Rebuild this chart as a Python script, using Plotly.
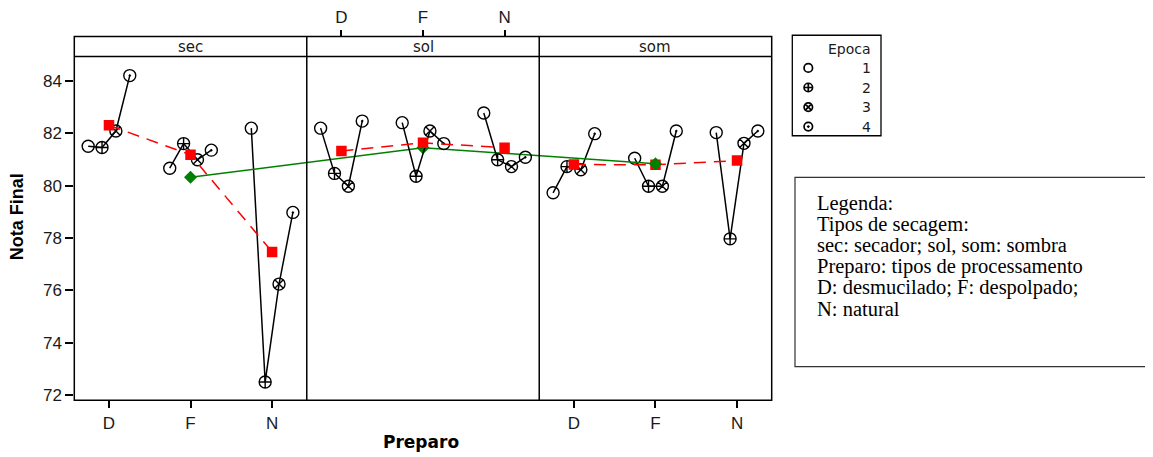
import plotly.graph_objects as go

# ---------------- data ----------------
secagem = ["sec", "sol", "som"]
preparo = ["D", "F", "N"]
epocas = ["1", "2", "3", "4"]
simbolos = ["circle-open", "circle-cross-open", "circle-x-open", "circle-open-dot"]

# Nota Final: preparo (D, F, N) x epoca (1..4)
notas_sec = [[81.51, 81.46, 82.09, 84.21],
             [80.67, 81.61, 80.99, 81.36],
             [82.20, 72.50, 76.24, 78.98]]
notas_sol = [[82.20, 80.47, 79.98, 82.47],
             [82.41, 80.36, 82.09, 81.61],
             [82.78, 80.99, 80.73, 81.09]]
notas_som = [[79.73, 80.73, 80.61, 81.99],
             [81.05, 79.98, 79.98, 82.09],
             [82.03, 77.97, 81.62, 82.09]]
media_preparo_sec = [82.31, 81.18, 77.47]
media_preparo_sol = [81.33, 81.64, 81.45]
media_preparo_som = [80.81, 80.80, 80.96]
media_secagem = [80.32, 81.45, 80.84]
y_ticks = [72, 74, 76, 78, 80, 82, 84]
nota_linhas = ["Legenda:", "Tipos de secagem:", "sec: secador; sol, som: sombra",
               "Preparo: tipos de processamento", "D: desmucilado; F: despolpado;",
               "N: natural"]

notas = [notas_sec, notas_sol, notas_som]
medias_preparo = [media_preparo_sec, media_preparo_sol, media_preparo_som]

# ---------------- layout helpers ----------------
OFF = 8            # page body margin
FW, FH = 1153 - OFF, 457 - OFF
PW = 2.85          # panel width in x units
X0 = 0.575         # left edge of the first panel (x units)
DODGE = [-0.255, -0.085, 0.085, 0.255]


def xpos(p, g, d=0.0):
    return p * PW + g + 1 + d


def fx(px):
    return (px - OFF) / FW


def fy(py):
    return 1 - (py - OFF) / FH


L, R, T_STRIP, T_PLOT, B = 74.3, 771.7, 34.0, 54.3, 404.3
TICKFONT = dict(family="Liberation Sans, Arial", size=17, color="#1a1a1a")

fig = go.Figure()

# black lines joining epocas inside each group, and epoca markers
for p in range(3):
    xa = "x2" if p == 1 else "x"
    for g in range(3):
        fig.add_trace(go.Scatter(
            x=[xpos(p, g, d) for d in DODGE], y=notas[p][g], xaxis=xa, yaxis="y",
            mode="lines", line=dict(color="black", width=1.5),
            showlegend=False, hoverinfo="skip"))
    for e in range(4):
        fig.add_trace(go.Scatter(
            x=[xpos(p, g, DODGE[e]) for g in range(3)],
            y=[notas[p][g][e] for g in range(3)], xaxis=xa, yaxis="y",
            mode="markers", name=epocas[e], showlegend=False,
            marker=dict(symbol=simbolos[e], size=12, color="black",
                        line=dict(width=1.4, color="black"))))

# red means per preparo (dashed)
for p in range(3):
    xa = "x2" if p == 1 else "x"
    fig.add_trace(go.Scatter(
        x=[xpos(p, g) for g in range(3)], y=medias_preparo[p], xaxis=xa, yaxis="y",
        mode="lines+markers", showlegend=False,
        line=dict(color="#ff0000", width=1.5, dash="12px,8px"),
        marker=dict(symbol="square", size=10.5, color="#ff0000")))

# green means per secagem
fig.add_trace(go.Scatter(
    x=[xpos(p, 1) for p in range(3)], y=media_secagem, xaxis="x", yaxis="y",
    mode="lines+markers", showlegend=False,
    line=dict(color="#008000", width=1.5),
    marker=dict(symbol="diamond", size=10, color="#008000")))

# manual Epoca key (pixel coordinates inside its own axes)
key_y = [66 + i * 19.9 for i in range(4)]
fig.add_trace(go.Scatter(
    x=[808.3] * 4, y=key_y, xaxis="x3", yaxis="y3", mode="markers",
    showlegend=False, hoverinfo="skip",
    marker=dict(symbol=simbolos, size=8.5, color="black",
                line=dict(width=1.7, color="black"))))

annotations = []
annotations.append(dict(x=873, y=47, xref="x3", yref="y3", text="Epoca",
                        showarrow=False, xanchor="right", yanchor="middle",
                        font=dict(family="DejaVu Sans", size=14, color="#1a1a1a")))
for i, e in enumerate(epocas):
    annotations.append(dict(x=873, y=key_y[i], xref="x3", yref="y3", text=e,
                            showarrow=False, xanchor="right", yanchor="middle",
                            font=dict(family="DejaVu Sans", size=14, color="#1a1a1a")))

# strip labels
for p, s in enumerate(secagem):
    annotations.append(dict(x=X0 + PW * (p + 0.5), y=fy((T_STRIP + T_PLOT) / 2),
                            xref="x", yref="paper", text=s, showarrow=False,
                            xanchor="center", yanchor="middle",
                            font=dict(family="DejaVu Sans", size=15, color="#1a1a1a")))

# axis titles
annotations.append(dict(x=fx(17), y=fy(218), xref="paper", yref="paper",
                        text="<b>Nota Final</b>", textangle=-90, showarrow=False,
                        xanchor="center", yanchor="middle",
                        font=dict(family="Liberation Sans, Arial", size=18, color="black")))
annotations.append(dict(x=fx(421), y=fy(447), xref="paper", yref="paper",
                        text="<b>Preparo</b>", showarrow=False,
                        xanchor="center", yanchor="middle",
                        font=dict(family="DejaVu Sans", size=17, color="black")))

# note box text
note_y = [203.5 + 21.5 * i for i in range(len(nota_linhas))]
for i, t in enumerate(nota_linhas):
    annotations.append(dict(x=fx(815), y=fy(note_y[i]), xref="paper", yref="paper",
                            text=t, showarrow=False, xanchor="left", yanchor="middle",
                            font=dict(family="Liberation Serif, Times New Roman",
                                      size=20.5, color="black")))

shapes = []
line_k = dict(color="black", width=1.5)
# outer frame
shapes.append(dict(type="rect", xref="paper", yref="paper", x0=fx(L), x1=fx(R),
                   y0=fy(B), y1=fy(T_STRIP), line=line_k))
# strip bottom line
shapes.append(dict(type="line", xref="paper", yref="paper", x0=fx(L), x1=fx(R),
                   y0=fy(T_PLOT), y1=fy(T_PLOT), line=line_k))
# panel dividers
for p in (1, 2):
    shapes.append(dict(type="line", xref="x", yref="paper", x0=X0 + PW * p,
                       x1=X0 + PW * p, y0=fy(B), y1=fy(T_STRIP), line=line_k))
# Epoca key box
shapes.append(dict(type="rect", xref="paper", yref="paper", x0=fx(792.3), x1=fx(881),
                   y0=fy(135), y1=fy(32.7), line=dict(color="black", width=1.3)))
# note box (cut at right border)
shapes.append(dict(type="rect", xref="paper", yref="paper", x0=fx(795), x1=1.02,
                   y0=fy(370), y1=fy(177.3), line=dict(color="#333333", width=1.2)))

xr = [X0, X0 + 3 * PW]
fig.update_layout(
    width=FW, height=FH,
    margin=dict(l=0, r=0, t=0, b=0),
    paper_bgcolor="white", plot_bgcolor="white",
    showlegend=False,
    xaxis=dict(domain=[fx(L), fx(R)], range=xr, anchor="y",
               tickmode="array",
               tickvals=[xpos(0, g) for g in range(3)] + [xpos(2, g) for g in range(3)],
               ticktext=preparo + preparo,
               ticks="outside", ticklen=7, tickwidth=1.5, tickcolor="black",
               tickfont=TICKFONT, showline=False, showgrid=False, zeroline=False,
               fixedrange=True),
    xaxis2=dict(domain=[fx(L), fx(R)], range=xr, overlaying="x", side="top",
                anchor="free", position=fy(T_STRIP),
                tickmode="array", tickvals=[xpos(1, g) for g in range(3)],
                ticktext=preparo,
                ticks="outside", ticklen=7, tickwidth=1.5, tickcolor="black",
                tickfont=TICKFONT, showline=False, showgrid=False, zeroline=False,
                fixedrange=True),
    yaxis=dict(domain=[fy(B), fy(T_PLOT)], range=[71.8, 84.94], anchor="x",
               tickmode="array", tickvals=y_ticks,
               ticks="outside", ticklen=8, tickwidth=1.5, tickcolor="black",
               tickfont=TICKFONT, showline=False, showgrid=False, zeroline=False,
               fixedrange=True),
    xaxis3=dict(domain=[fx(792.3), fx(881)], range=[792.3, 881], anchor="y3",
                visible=False, fixedrange=True),
    yaxis3=dict(domain=[fy(135), fy(32.7)], range=[135, 32.7], anchor="x3",
                visible=False, fixedrange=True),
    annotations=annotations,
    shapes=shapes,
)

fig.write_html("out.html")
